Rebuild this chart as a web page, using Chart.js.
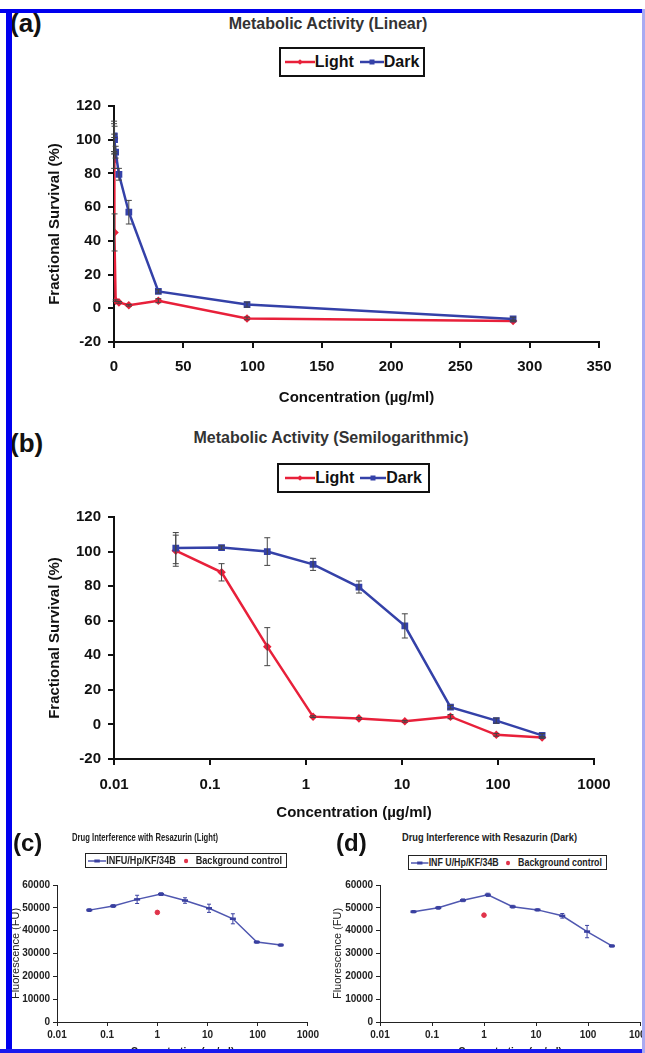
<!DOCTYPE html>
<html>
<head>
<meta charset="utf-8">
<script src="https://cdn.jsdelivr.net/npm/chart.js@4.4.1/dist/chart.umd.min.js"></script>
<style>
  body { margin: 0; width: 645px; height: 1053px; overflow: hidden; background: #fff; position: relative;
         font-family: "Liberation Sans", Arial, sans-serif; color: #111; }
  canvas { position: absolute; }
  .abs { position: absolute; white-space: nowrap; }
  .panel { font-weight: bold; line-height: 1; }
  .title { font-weight: bold; font-size: 16px; color: #333; text-align: center; }
  .legend { position: absolute; border: 2px solid #111; box-sizing: border-box; display: flex;
            align-items: center; justify-content: center; font-weight: bold; font-size: 16px; }
  .legend span { margin-right: 6px; }
  .small { font-size: 10px; font-weight: bold; color: #222; transform-origin: left center; }
  .slegend { position: absolute; border: 1.5px solid #222; box-sizing: border-box; overflow: visible; }
  .slegend .inner { position: absolute; left: 2px; top: 1px; display: flex; align-items: center;
                    font-size: 10px; font-weight: bold; color: #222; transform-origin: left center; white-space: nowrap; }
  .frame { position: absolute; }
</style>
</head>
<body>

<div class="abs panel" style="left:10px;top:10px;font-size:26px;">(a)</div>
<div class="abs title" style="left:178px;top:15px;width:300px;">Metabolic Activity (Linear)</div>
<div class="legend" style="left:279px;top:47px;width:146px;height:30px;">
  <svg width="30" height="10"><line x1="0" y1="5" x2="30" y2="5" stroke="#e8203a" stroke-width="2.5"/><rect x="13" y="3" width="4" height="4" fill="#e8203a" transform="rotate(45 15 5)"/></svg>
  <span>Light</span>
  <svg width="24" height="10"><line x1="0" y1="5" x2="24" y2="5" stroke="#3441a8" stroke-width="2.5"/><rect x="9.5" y="2.5" width="5" height="5" fill="#3441a8"/></svg>
  <span style="margin-right:0">Dark</span>
</div>
<canvas id="chartA" width="645" height="330" style="left:0;top:90px;"></canvas>

<div class="abs panel" style="left:10px;top:430px;font-size:26px;">(b)</div>
<div class="abs title" style="left:181px;top:429px;width:300px;">Metabolic Activity (Semilogarithmic)</div>
<div class="legend" style="left:277px;top:463px;width:153px;height:30px;">
  <svg width="30" height="10"><line x1="0" y1="5" x2="30" y2="5" stroke="#e8203a" stroke-width="2.5"/><rect x="13" y="3" width="4" height="4" fill="#e8203a" transform="rotate(45 15 5)"/></svg>
  <span>Light</span>
  <svg width="26" height="10"><line x1="0" y1="5" x2="26" y2="5" stroke="#3441a8" stroke-width="2.5"/><rect x="10.5" y="2.5" width="5" height="5" fill="#3441a8"/></svg>
  <span style="margin-right:0">Dark</span>
</div>
<canvas id="chartB" width="645" height="330" style="left:0;top:500px;"></canvas>

<div class="abs panel" style="left:13px;top:831px;font-size:24px;">(c)</div>
<div class="abs small fit" data-w="146" style="left:72px;top:832px;">Drug Interference with Resazurin (Light)</div>
<div class="slegend" style="left:85px;top:853px;width:202px;height:15px;">
  <div class="inner fit" data-w="194">
    <svg width="20" height="8"><line x1="0" y1="4" x2="20" y2="4" stroke="#4f57b0" stroke-width="1.5"/><line x1="7" y1="4" x2="13" y2="4" stroke="#3a40a0" stroke-width="3"/></svg>
    <span>INFU/Hp/KF/34B</span>
    <svg width="22" height="8"><circle cx="11" cy="4" r="2.3" fill="#e0334a"/></svg>
    <span>Background control</span>
  </div>
</div>
<canvas id="chartC" width="322" height="190" style="left:0;top:870px;"></canvas>

<div class="abs panel" style="left:336px;top:831px;font-size:24px;">(d)</div>
<div class="abs small fit" data-w="175" style="left:402px;top:832px;">Drug Interference with Resazurin (Dark)</div>
<div class="slegend" style="left:408px;top:855px;width:199px;height:15px;">
  <div class="inner fit" data-w="191">
    <svg width="20" height="8"><line x1="0" y1="4" x2="20" y2="4" stroke="#4f57b0" stroke-width="1.5"/><line x1="7" y1="4" x2="13" y2="4" stroke="#3a40a0" stroke-width="3"/></svg>
    <span>INF U/Hp/KF/34B</span>
    <svg width="22" height="8"><circle cx="11" cy="4" r="2.3" fill="#e0334a"/></svg>
    <span>Background control</span>
  </div>
</div>
<canvas id="chartD" width="340" height="190" style="left:322px;top:870px;"></canvas>

<div class="frame" style="left:0;top:9px;width:645px;height:4px;background:#0000ee;"></div>
<div class="frame" style="left:6px;top:9px;width:6px;height:1044px;background:#0000ee;"></div>
<div class="frame" style="left:0;top:1049px;width:645px;height:4px;background:#1a1aee;"></div>
<div class="frame" style="left:642px;top:9px;width:3px;height:1044px;background:#a9aaf2;"></div>

<script>
// concentrations (µg/ml) shared by every panel
const concentrations = [0.044, 0.132, 0.395, 1.185, 3.56, 10.7, 32, 96, 288];

// panels (a) and (b): fractional survival (%)
const lightSurvival = [100.5, 88, 45, 4.5, 3.5, 1.8, 4.5, -6, -7.5];
const lightSurvivalErr = [9, 5, 11, 0.5, 0.5, 0.5, 1.2, 0.8, 0.5];
const darkSurvival = [102, 102.3, 100, 92.6, 79.5, 57, 10, 2.2, -6.3];
const darkSurvivalErr = [9, 1, 8, 3.5, 3.5, 7, 1, 1.5, 1];

// panels (c) and (d): fluorescence (FU)
const lightFluor = [49000, 50800, 53700, 56000, 53200, 49800, 45200, 35000, 33700];
const lightFluorErr = [600, 600, 1800, 600, 1200, 1800, 2200, 500, 500];
const darkFluor = [48300, 50000, 53300, 55700, 50500, 49100, 46500, 39600, 33300];
const darkFluorErr = [500, 600, 600, 700, 600, 500, 1000, 2700, 500];
const backgroundConc = [1];
const backgroundLight = [48000];
const backgroundDark = [46800];

const decades = [0.01, 0.1, 1, 10, 100, 1000];
const decadeLabels = ['0.01', '0.1', '1', '10', '100', '1000'];

Chart.defaults.font.family = '"Liberation Sans", Arial, sans-serif';
Chart.defaults.color = '#111';

const RED = '#e8203a', BLUE = '#3441a8';

function pts(xs, ys) { return xs.map((x, i) => ({ x: x, y: ys[i] })); }

// draws vertical error bars using the chart's own scales
const errorBars = {
  id: 'errorBars',
  afterDatasetsDraw(chart) {
    const ctx = chart.ctx, xs = chart.scales.x, ys = chart.scales.y;
    chart.data.datasets.forEach(ds => {
      if (!ds.errors) return;
      ctx.save();
      ctx.strokeStyle = ds.errorColor || '#333';
      ctx.lineWidth = 1;
      ds.data.forEach((p, j) => {
        const e = ds.errors[j];
        if (!e) return;
        const px = xs.getPixelForValue(p.x);
        const t = ys.getPixelForValue(p.y + e), b = ys.getPixelForValue(p.y - e);
        const c = ds.errorCap || 3;
        ctx.beginPath();
        ctx.moveTo(px, t); ctx.lineTo(px, b);
        ctx.moveTo(px - c, t); ctx.lineTo(px + c, t);
        ctx.moveTo(px - c, b); ctx.lineTo(px + c, b);
        ctx.stroke();
      });
      ctx.restore();
    });
  }
};

function survivalDatasets() {
  return [
    { label: 'Dark', data: pts(concentrations, darkSurvival), errors: darkSurvivalErr, errorColor: '#444',
      borderColor: BLUE, backgroundColor: BLUE, borderWidth: 2.5, pointStyle: 'rect', pointRadius: 3, tension: 0 },
    { label: 'Light', data: pts(concentrations, lightSurvival), errors: lightSurvivalErr, errorColor: '#444',
      borderColor: RED, backgroundColor: RED, borderWidth: 2.5, pointStyle: 'rectRot', pointRadius: 2.5, tension: 0 }
  ];
}

const bigTick = { size: 15, weight: 'bold' };
const bigTitle = { size: 15, weight: 'bold' };
const bigGrid = { drawOnChartArea: false, drawTicks: true, tickLength: 6, color: '#111', lineWidth: 2 };
const bigBorder = { display: true, color: '#111', width: 2 };

function survivalY() {
  return {
    min: -20, max: 120,
    ticks: { stepSize: 20, font: bigTick, padding: 7, color: '#111' },
    grid: bigGrid, border: bigBorder,
    title: { display: true, text: 'Fractional Survival (%)', font: bigTitle, padding: { top: 6, bottom: 0 }, color: '#111' },
    afterFit: s => { s.width = 74; }
  };
}

const baseOpts = {
  responsive: false, animation: false, devicePixelRatio: 1,
  plugins: { legend: { display: false }, tooltip: { enabled: false } }
};

new Chart(document.getElementById('chartA'), {
  type: 'line',
  data: { datasets: survivalDatasets() },
  plugins: [errorBars],
  options: Object.assign({}, baseOpts, {
    layout: { padding: { left: 40, top: 13, right: 46, bottom: 0 } },
    scales: {
      x: {
        type: 'linear', min: 0, max: 350,
        ticks: { stepSize: 50, font: bigTick, padding: 10, color: '#111' },
        grid: bigGrid, border: bigBorder,
        title: { display: true, text: 'Concentration (µg/ml)', font: bigTitle, padding: { top: 0, bottom: 13 }, color: '#111' },
        afterFit: s => { s.height = 78; }
      },
      y: survivalY()
    }
  })
});

new Chart(document.getElementById('chartB'), {
  type: 'line',
  data: { datasets: survivalDatasets() },
  plugins: [errorBars],
  options: Object.assign({}, baseOpts, {
    layout: { padding: { left: 40, top: 17, right: 51, bottom: 0 } },
    scales: {
      x: {
        type: 'logarithmic', min: 0.01, max: 1000,
        afterBuildTicks: s => { s.ticks = decades.map(v => ({ value: v })); },
        ticks: { font: bigTick, padding: 11, color: '#111', autoSkip: false, maxRotation: 0,
                 callback: (v, i) => decadeLabels[i] },
        grid: bigGrid, border: bigBorder,
        title: { display: true, text: 'Concentration (µg/ml)', font: bigTitle, padding: { top: 0, bottom: 8 }, color: '#111' },
        afterFit: s => { s.height = 71; }
      },
      y: survivalY()
    }
  })
});

function fluorChart(id, series, errs, bg, padRight, yWidth) {
  const smallTick = { size: 10, weight: 'bold' };
  const smallGrid = { drawOnChartArea: false, drawTicks: true, tickLength: 4, color: '#222', lineWidth: 1 };
  const smallBorder = { display: true, color: '#222', width: 1 };
  return new Chart(document.getElementById(id), {
    type: 'line',
    data: {
      datasets: [
        { label: 'INFU/Hp/KF/34B', data: pts(concentrations, series), errors: errs, errorCap: 2, errorColor: '#3a40a0',
          borderColor: '#4f57b0', backgroundColor: '#3a40a0', borderWidth: 1.5, pointStyle: 'line', pointRadius: 3,
          pointBorderWidth: 2.5, pointBorderColor: '#3a40a0', tension: 0 },
        { label: 'Background control', data: pts(backgroundConc, bg), showLine: false,
          backgroundColor: '#e0334a', borderColor: '#e0334a', pointStyle: 'circle', pointRadius: 2.3 }
      ]
    },
    plugins: [errorBars],
    options: Object.assign({}, baseOpts, {
      layout: { padding: { left: 8, top: 15, right: padRight, bottom: 0 } },
      scales: {
        x: {
          type: 'logarithmic', min: 0.01, max: 1000,
          afterBuildTicks: s => { s.ticks = decades.map(v => ({ value: v })); },
          ticks: { font: smallTick, padding: 3, color: '#222', autoSkip: false, maxRotation: 0,
                   callback: (v, i) => decadeLabels[i] },
          grid: smallGrid, border: smallBorder,
          title: { display: true, text: 'Concentration (µg/ml)', font: { size: 10, weight: 'bold' }, padding: { top: 0, bottom: 2 }, color: '#222' },
          afterFit: s => { s.height = 38; }
        },
        y: {
          min: 0, max: 60000,
          ticks: { stepSize: 10000, font: smallTick, padding: 3, color: '#222', callback: v => String(v) },
          grid: smallGrid, border: smallBorder,
          title: { display: true, text: 'Fluorescence (FU)', font: { size: 11 }, padding: { top: 1, bottom: 0 }, color: '#222' },
          afterFit: s => { s.width = yWidth; }
        }
      }
    })
  });
}

fluorChart('chartC', lightFluor, lightFluorErr, backgroundLight, 7, 49);
fluorChart('chartD', darkFluor, darkFluorErr, backgroundDark, 22, 50);

// squeeze the small condensed texts to their measured widths
document.querySelectorAll('.fit').forEach(el => {
  const w = el.getBoundingClientRect().width;
  const target = parseFloat(el.dataset.w);
  el.style.transform = 'scaleX(' + (target / w).toFixed(3) + ')';
});
</script>
</body>
</html>
